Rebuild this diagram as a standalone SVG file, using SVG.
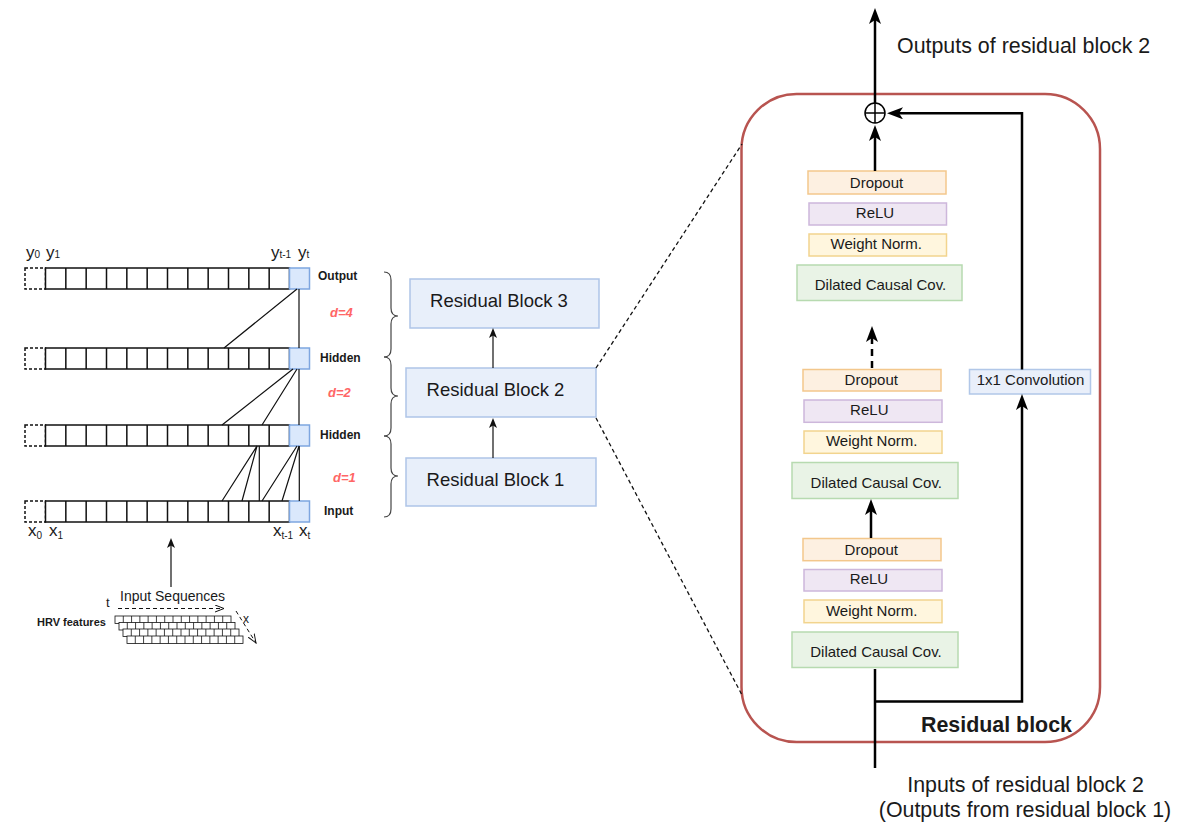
<svg xmlns="http://www.w3.org/2000/svg" xmlns:xlink="http://www.w3.org/1999/xlink" width="1179" height="825" viewBox="0 0 1179 825">
<style>
text{font-family:"Liberation Sans",Arial,sans-serif;fill:#1a1a1a}
.lbl{font-size:12px;font-weight:bold}
.dl{font-size:13px;font-weight:bold;font-style:italic;fill:#ff6666}
.var{font-size:17px}
.sub{font-size:10px}
.rb{font-size:18.5px}
.sm{font-size:15px;text-anchor:middle}
.big{font-size:21.4px}
.cell{fill:#fff;stroke:#111;stroke-width:1.5}
.blue{fill:#dae8fc;stroke:#7ea6e0;stroke-width:1.5}
.dash{fill:none;stroke:#111;stroke-width:1.5;stroke-dasharray:3 2}
.rbox{fill:#e8effa;stroke:#aec5e8;stroke-width:1.5}
.drop{fill:#fdf0e1;stroke:#f3c78c;stroke-width:1.5}
.relu{fill:#efe7f3;stroke:#cdb7db;stroke-width:1.5}
.wn{fill:#fff6de;stroke:#f2d48e;stroke-width:1.5}
.dil{fill:#e9f3e6;stroke:#b7dab0;stroke-width:1.5}
.thin{fill:none;stroke:#111;stroke-width:1.2}
.thick{fill:none;stroke:#000;stroke-width:2.5}
</style>
<defs>
<marker id="arrB" viewBox="0 0 16 12" refX="5" refY="6" markerWidth="16" markerHeight="12" orient="auto" markerUnits="userSpaceOnUse"><path d="M0,0 L16,6 L0,12 L4,6 Z" fill="#000"/></marker>
<marker id="arrS" viewBox="0 0 10 8" refX="3" refY="4" markerWidth="10" markerHeight="8" orient="auto" markerUnits="userSpaceOnUse"><path d="M0,0 L10,4 L0,8 L2.5,4 Z" fill="#111"/></marker>
<marker id="arrO" viewBox="0 0 10 8" refX="9" refY="4" markerWidth="10" markerHeight="8" orient="auto" markerUnits="userSpaceOnUse"><path d="M0,0.5 L9,4 L0,7.5" fill="none" stroke="#111" stroke-width="1"/></marker>
<g id="row">
<rect x="25" y="0" width="20.5" height="21" class="dash"/>
<rect x="45.5" y="0" width="244" height="21" class="cell"/>
<path d="M65.83,0v21 M86.17,0v21 M106.5,0v21 M126.83,0v21 M147.17,0v21 M167.5,0v21 M187.83,0v21 M208.17,0v21 M228.5,0v21 M248.83,0v21 M269.17,0v21" stroke="#111" stroke-width="1.5"/>
<rect x="289.5" y="0" width="20" height="21" class="blue"/>
</g>
<g id="hrow">
<rect x="0" y="0" width="116" height="7.5" fill="#fff" stroke="#111" stroke-width="0.8"/>
<path d="M8.29,0v7.5 M16.57,0v7.5 M24.86,0v7.5 M33.14,0v7.5 M41.43,0v7.5 M49.71,0v7.5 M58,0v7.5 M66.29,0v7.5 M74.57,0v7.5 M82.86,0v7.5 M91.14,0v7.5 M99.43,0v7.5 M107.71,0v7.5" stroke="#111" stroke-width="0.8"/>
</g>
</defs>

<g id="layer-output"><use xlink:href="#row" href="#row" y="268"/><text class="lbl" x="318" y="280">Output</text></g>
<g id="layer-hidden1"><use xlink:href="#row" href="#row" y="348"/><text class="lbl" x="320" y="362">Hidden</text></g>
<g id="layer-hidden2"><use xlink:href="#row" href="#row" y="425"/><text class="lbl" x="320" y="439">Hidden</text></g>
<g id="layer-input"><use xlink:href="#row" href="#row" y="501"/><text class="lbl" x="324" y="515">Input</text></g>

<g id="dilations">
<text class="dl" x="330" y="317">d=4</text>
<text class="dl" x="328" y="397">d=2</text>
<text class="dl" x="333" y="482">d=1</text>
</g>

<g id="seq-labels">
<text class="var" x="26" y="258">y<tspan class="sub">0</tspan></text>
<text class="var" x="46" y="258">y<tspan class="sub">1</tspan></text>
<text class="var" x="271" y="258">y<tspan class="sub">t-1</tspan></text>
<text class="var" x="298" y="258">y<tspan class="sub">t</tspan></text>
<text class="var" x="28" y="536">x<tspan class="sub" dy="3">0</tspan></text>
<text class="var" x="49" y="536">x<tspan class="sub" dy="3">1</tspan></text>
<text class="var" x="273" y="536">x<tspan class="sub" dy="3">t-1</tspan></text>
<text class="var" x="299" y="536">x<tspan class="sub" dy="3">t</tspan></text>
</g>

<g id="hrv">
<text x="37" y="626" style="font-size:11px;font-weight:bold">HRV features</text>
<use xlink:href="#hrow" href="#hrow" x="115" y="616"/>
<use xlink:href="#hrow" href="#hrow" x="119" y="622.5"/>
<use xlink:href="#hrow" href="#hrow" x="123" y="629"/>
<use xlink:href="#hrow" href="#hrow" x="127" y="636"/>
<text x="120" y="601" style="font-size:14px">Input Sequences</text>
<text x="106" y="607" style="font-size:13px">t</text>
<text x="243" y="623" style="font-size:12px">x</text>
</g>

<g id="rb3"><rect x="410" y="279" width="189" height="49" class="rbox"/><text class="rb" x="499" y="307" text-anchor="middle">Residual Block  3</text></g>
<g id="rb2"><rect x="406" y="368" width="190" height="49" class="rbox"/><text class="rb" x="495.5" y="396" text-anchor="middle">Residual Block  2</text></g>
<g id="rb1"><rect x="406" y="458" width="190" height="48" class="rbox"/><text class="rb" x="495.5" y="486" text-anchor="middle">Residual Block  1</text></g>

<g id="residual-block">
<rect x="741.5" y="94" width="358.5" height="648" rx="55" ry="55" fill="none" stroke="#b85450" stroke-width="2.5"/>
<text class="big" x="921" y="732" style="font-weight:bold">Residual block</text>
</g>

<g id="sum"><circle cx="875" cy="113" r="10" fill="#fff" stroke="#000" stroke-width="1.5"/><path d="M865,113h20 M875,103v20" stroke="#000" stroke-width="1.5"/></g>

<g id="drop1"><rect x="808" y="171" width="138" height="23" class="drop"/><text class="sm" x="876.5" y="187.5">Dropout</text></g>
<g id="relu1"><rect x="809" y="203" width="137.5" height="22" class="relu"/><text class="sm" x="875" y="217.5">ReLU</text></g>
<g id="wn1"><rect x="809" y="234" width="137.5" height="22" class="wn"/><text class="sm" x="876.3" y="249">Weight Norm.</text></g>
<g id="dil1"><rect x="797" y="265" width="165" height="35.5" class="dil"/><text class="sm" x="880.5" y="290">Dilated Causal Cov.</text></g>

<g id="drop2"><rect x="803" y="369.5" width="138" height="21.5" class="drop"/><text class="sm" x="871.3" y="385">Dropout</text></g>
<g id="relu2"><rect x="804" y="400" width="138" height="22.3" class="relu"/><text class="sm" x="869.3" y="415">ReLU</text></g>
<g id="wn2"><rect x="804" y="431" width="138" height="22.3" class="wn"/><text class="sm" x="871.7" y="446">Weight Norm.</text></g>
<g id="dil2"><rect x="792" y="462.5" width="166" height="36" class="dil"/><text class="sm" x="876.3" y="487.7">Dilated Causal Cov.</text></g>

<g id="drop3"><rect x="803" y="538.5" width="138" height="22.2" class="drop"/><text class="sm" x="871.3" y="555">Dropout</text></g>
<g id="relu3"><rect x="804" y="569.5" width="138" height="21.5" class="relu"/><text class="sm" x="869" y="584">ReLU</text></g>
<g id="wn3"><rect x="804" y="600" width="138" height="22.7" class="wn"/><text class="sm" x="871.7" y="616">Weight Norm.</text></g>
<g id="dil3"><rect x="792" y="632" width="166" height="35.5" class="dil"/><text class="sm" x="876" y="656.7">Dilated Causal Cov.</text></g>

<g id="conv1x1"><rect x="969.5" y="369.5" width="121" height="24.5" fill="#e9effa" stroke="#b1c7e8" stroke-width="1.5"/><text class="sm" x="1030.5" y="385">1x1 Convolution</text></g>

<g id="io-labels">
<text class="big" x="897" y="53">Outputs of residual block 2</text>
<text class="big" x="1025.5" y="791.5" text-anchor="middle">Inputs of residual block 2</text>
<text class="big" x="1025" y="817" text-anchor="middle">(Outputs from residual block 1)</text>
</g>

<g id="connectors">
<path class="thin" d="M297,289 L224,348 M299,289 V348"/>
<path class="thin" d="M293,369 L222,425 M297,369 L262,425 M299,369 V425"/>
<path class="thin" d="M257,446 L222,501 M257,446 L242,501 M259.3,446 V501"/>
<path class="thin" d="M297,446 L262,501 M299,446 L282,501 M299.3,446 V501"/>
<path fill="none" stroke="#444" stroke-width="1.2" d="M384,272 Q391,272 391,280 L391,308 Q391,316 398,316 Q391,316 391,324 L391,349 Q391,357 384,357"/>
<path fill="none" stroke="#444" stroke-width="1.2" d="M384,357 Q391,357 391,365 L391,388 Q391,396 398,396 Q391,396 391,404 L391,428 Q391,436 384,436"/>
<path fill="none" stroke="#444" stroke-width="1.2" d="M384,436 Q391,436 391,444 L391,468 Q391,476 398,476 Q391,476 391,484 L391,509 Q391,517 384,517"/>
<path class="thin" d="M171,587 V545" marker-end="url(#arrS)"/>
<path fill="none" stroke="#111" stroke-width="1" stroke-dasharray="4 3" d="M118,608.5 H224" marker-end="url(#arrO)"/>
<path fill="none" stroke="#111" stroke-width="1" stroke-dasharray="4 3" d="M236,611 L256,643" marker-end="url(#arrO)"/>
<path class="thin" d="M493,458 V425" marker-end="url(#arrS)"/>
<path class="thin" d="M493,368 V335" marker-end="url(#arrS)"/>
<path fill="none" stroke="#111" stroke-width="1.3" stroke-dasharray="4 3" d="M596,368 L742,144 M596,418 L742,695"/>
<path class="thick" d="M875,103 V19" marker-end="url(#arrB)"/>
<path class="thick" d="M875,171 V136" marker-end="url(#arrB)"/>
<path class="thick" d="M872,368 V337" stroke-dasharray="7 5" marker-end="url(#arrB)"/>
<path class="thick" d="M871,538 V510" marker-end="url(#arrB)"/>
<path class="thick" d="M875,768 V669"/>
<path class="thick" d="M875,701.5 H1022 V405" marker-end="url(#arrB)"/>
<path class="thick" d="M1022,369.5 V113.3 H898" marker-end="url(#arrB)"/>
</g>
</svg>
